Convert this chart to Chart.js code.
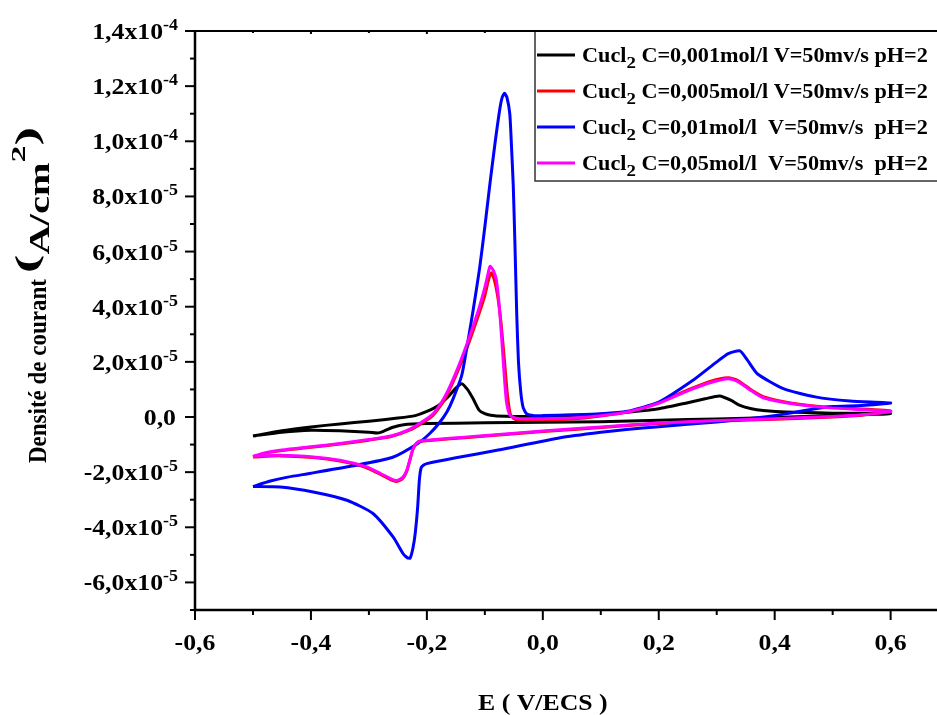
<!DOCTYPE html>
<html lang="fr">
<head>
<meta charset="UTF-8">
<title>Voltampérométrie cyclique CuCl2</title>
<script src="https://cdn.jsdelivr.net/npm/chart.js"></script>
<style>
  body { margin: 0; background: #fff; }
  #wrap { width: 937px; height: 715px; }
</style>
</head>
<body>
<div id="wrap"><canvas id="cv" width="937" height="715"></canvas></div>
<script>
// potentiel E (V/ECS) et densité de courant j (unités de 1e-5 A/cm2)
// chaque courbe : aller de -0,5 à 0,6 V puis retour vers -0,5 V

// C = 0,001 mol/l
const e001 = [-0.5, -0.45, -0.4, -0.35, -0.3, -0.25, -0.22, -0.2, -0.18, -0.165, -0.15, -0.14, -0.13, -0.12, -0.11, -0.1, -0.09, -0.08, -0.05, 0, 0.05, 0.1, 0.15, 0.2, 0.25, 0.28, 0.305, 0.325, 0.34, 0.36, 0.38, 0.42, 0.5, 0.6,
              0.5, 0.4, 0.3, 0.2, 0.1, 0, -0.1, -0.2, -0.24, -0.26, -0.275, -0.285, -0.3, -0.35, -0.4, -0.45, -0.5];
const j001 = [-0.69, -0.5, -0.36, -0.25, -0.15, -0.04, 0.05, 0.2, 0.42, 0.7, 1.05, 1.21, 1.0, 0.65, 0.25, 0.12, 0.06, 0.04, 0.02, 0.02, 0.05, 0.1, 0.18, 0.3, 0.52, 0.66, 0.76, 0.6, 0.42, 0.3, 0.24, 0.18, 0.14, 0.12,
              0.05, -0.02, -0.07, -0.12, -0.17, -0.19, -0.21, -0.24, -0.28, -0.38, -0.52, -0.58, -0.55, -0.5, -0.48, -0.55, -0.69];

// C = 0,005 mol/l
const e005 = [-0.5, -0.48, -0.45, -0.4, -0.35, -0.3, -0.26, -0.23, -0.21, -0.19, -0.17, -0.15, -0.13, -0.11, -0.1, -0.094, -0.089, -0.084, -0.078, -0.072, -0.066, -0.061, -0.056, -0.05, -0.04, 0, 0.05, 0.1, 0.15, 0.2, 0.25, 0.29, 0.32, 0.335, 0.36, 0.38, 0.43, 0.49, 0.6,
              0.55, 0.5, 0.4, 0.317, 0.2, 0.107, 0, -0.054, -0.109, -0.16, -0.2, -0.212, -0.218, -0.224, -0.23, -0.235, -0.242, -0.252, -0.262, -0.28, -0.304, -0.35, -0.396, -0.453, -0.5];
const j005 = [-1.45, -1.32, -1.22, -1.1, -0.98, -0.84, -0.7, -0.48, -0.24, 0.05, 0.62, 1.5, 2.55, 3.75, 4.4, 4.95, 5.23, 5.0, 4.4, 3.4, 2.0, 0.8, 0.1, -0.06, -0.1, -0.1, -0.07, 0.04, 0.2, 0.52, 0.98, 1.3, 1.42, 1.34, 0.98, 0.74, 0.5, 0.36, 0.22,
              0.06, 0.0, -0.08, -0.14, -0.24, -0.37, -0.53, -0.62, -0.71, -0.79, -0.86, -0.89, -0.97, -1.17, -1.62, -1.98, -2.24, -2.34, -2.28, -2.08, -1.84, -1.6, -1.47, -1.41, -1.45];

// C = 0,01 mol/l
const e01 = [-0.5, -0.47, -0.44, -0.4, -0.33, -0.26, -0.215, -0.195, -0.178, -0.165, -0.155, -0.14, -0.132, -0.12, -0.109, -0.1, -0.091, -0.082, -0.074, -0.07, -0.066, -0.062, -0.057, -0.054, -0.051, -0.048, -0.045, -0.042, -0.038, -0.034, -0.028, -0.015, 0, 0.05, 0.1, 0.144, 0.2, 0.259, 0.3, 0.32, 0.34, 0.353, 0.37, 0.415, 0.47, 0.53, 0.6,
             0.55, 0.5, 0.47, 0.43, 0.374, 0.3, 0.2, 0.144, 0.1, 0.03, -0.077, -0.15, -0.2, -0.206, -0.21, -0.213, -0.216, -0.22, -0.224, -0.229, -0.234, -0.241, -0.258, -0.293, -0.338, -0.396, -0.453, -0.5];
const j01 = [-2.52, -2.32, -2.18, -2.04, -1.78, -1.47, -0.95, -0.6, -0.2, 0.2, 0.65, 1.5, 2.4, 3.9, 5.4, 6.9, 8.5, 10.0, 11.2, 11.6, 11.74, 11.6, 11.0, 9.8, 8.4, 6.2, 3.75, 2.0, 0.9, 0.35, 0.12, 0.05, 0.05, 0.08, 0.12, 0.2, 0.54, 1.33, 2.0, 2.3, 2.4, 2.06, 1.57, 1.03, 0.73, 0.58, 0.51,
             0.42, 0.38, 0.3, 0.15, -0.02, -0.18, -0.35, -0.45, -0.55, -0.75, -1.2, -1.48, -1.69, -1.75, -1.85, -2.3, -3.3, -4.2, -4.75, -5.12, -5.1, -4.96, -4.36, -3.5, -3.02, -2.72, -2.54, -2.52];

// C = 0,05 mol/l
const e05 = [-0.5, -0.48, -0.45, -0.4, -0.35, -0.3, -0.26, -0.23, -0.21, -0.19, -0.17, -0.15, -0.13, -0.11, -0.1, -0.095, -0.091, -0.085, -0.08, -0.074, -0.068, -0.063, -0.058, -0.052, -0.04, 0, 0.05, 0.1, 0.15, 0.2, 0.25, 0.29, 0.32, 0.335, 0.36, 0.38, 0.43, 0.49, 0.6,
             0.55, 0.5, 0.4, 0.317, 0.2, 0.107, 0, -0.054, -0.109, -0.16, -0.2, -0.212, -0.218, -0.224, -0.23, -0.235, -0.242, -0.252, -0.262, -0.28, -0.304, -0.35, -0.396, -0.453, -0.5];
const j05 = [-1.43, -1.3, -1.2, -1.08, -0.96, -0.82, -0.68, -0.45, -0.2, 0.1, 0.7, 1.6, 2.7, 3.95, 4.7, 5.15, 5.47, 5.3, 4.96, 3.75, 1.94, 0.6, 0.12, 0.0, -0.06, -0.06, -0.04, 0.05, 0.2, 0.5, 0.95, 1.25, 1.39, 1.3, 0.95, 0.7, 0.48, 0.34, 0.2,
             0.08, 0.02, -0.06, -0.12, -0.22, -0.35, -0.51, -0.6, -0.69, -0.77, -0.84, -0.87, -0.95, -1.15, -1.6, -1.95, -2.2, -2.3, -2.24, -2.05, -1.81, -1.57, -1.45, -1.39, -1.43];

const seriesE = [e001, e005, e01, e05];
const seriesJ = [j001, j005, j01, j05];
const seriesColors = ['#000000', '#ff0000', '#0000ff', '#ff00ff'];
const seriesOrder = [3, 2, 1, 0];
const legendText = ['C=0,001mol/l V=50mv/s pH=2', 'C=0,005mol/l V=50mv/s pH=2',
                    'C=0,01mol/l  V=50mv/s  pH=2', 'C=0,05mol/l  V=50mv/s  pH=2'];

// graduations
const xTicks = [-0.6, -0.4, -0.2, 0, 0.2, 0.4, 0.6];
const xTickLabels = ['-0,6', '-0,4', '-0,2', '0,0', '0,2', '0,4', '0,6'];
const xMinor = [-0.5, -0.3, -0.1, 0.1, 0.3, 0.5];
const yTicks = [-6, -4, -2, 0, 2, 4, 6, 8, 10, 12, 14];
const yTickLabels = [['-6,0x10', '-5'], ['-4,0x10', '-5'], ['-2,0x10', '-5'], ['0,0', ''],
                     ['2,0x10', '-5'], ['4,0x10', '-5'], ['6,0x10', '-5'], ['8,0x10', '-5'],
                     ['1,0x10', '-4'], ['1,2x10', '-4'], ['1,4x10', '-4']];
const yMinor = [-7, -5, -3, -1, 1, 3, 5, 7, 9, 11, 13];

const SERIF = '"Liberation Serif", "Times New Roman", serif';
const SX = 1.12;

// texte gras légèrement élargi horizontalement
function txt(ctx, s, x, y, size, align, sx) {
  ctx.font = 'bold ' + size + 'px ' + SERIF;
  const w = ctx.measureText(s).width * sx;
  const x0 = align === 'center' ? x - w / 2 : align === 'right' ? x - w : x;
  ctx.save();
  ctx.translate(x0, y);
  ctx.scale(sx, 1);
  ctx.textAlign = 'left';
  ctx.textBaseline = 'alphabetic';
  ctx.fillText(s, 0, 0);
  ctx.restore();
  return w;
}

function seg(ctx, x1, y1, x2, y2) {
  ctx.beginPath(); ctx.moveTo(x1, y1); ctx.lineTo(x2, y2); ctx.stroke();
}

// titre vertical : [texte, taille, décalage de ligne de base, étirement]
const yTitleParts = [['Densité de courant ', 23, 0, 1], ['(', 28, -9, 2.0], ['A/cm', 27, 3, 1.5],
                     ['2', 17, -21, 2.0], [')', 28, -9, 2.0]];

const frame = {
  id: 'frame',
  afterDraw(chart) {
    const { ctx, chartArea: a, scales: { x, y } } = chart;
    ctx.save();
    ctx.strokeStyle = '#000';
    ctx.fillStyle = '#000';

    // axes
    ctx.lineWidth = 2.5;
    ctx.beginPath();
    ctx.moveTo(a.left, a.top); ctx.lineTo(a.left, a.bottom); ctx.lineTo(a.right, a.bottom);
    ctx.stroke();
    ctx.lineWidth = 2;
    seg(ctx, a.left, a.top, a.right, a.top);

    // graduations
    ctx.lineWidth = 2;
    xTicks.forEach(v => { const p = x.getPixelForValue(v); seg(ctx, p, a.bottom, p, a.bottom + 10); seg(ctx, p, a.top, p, a.top + 3); });
    xMinor.forEach(v => { const p = x.getPixelForValue(v); seg(ctx, p, a.bottom, p, a.bottom + 5); seg(ctx, p, a.top, p, a.top + 2); });
    yTicks.forEach(v => { const p = y.getPixelForValue(v); seg(ctx, a.left - 10, p, a.left, p); });
    yMinor.forEach(v => { const p = y.getPixelForValue(v); seg(ctx, a.left - 5, p, a.left, p); });

    // étiquettes
    xTicks.forEach((v, i) => txt(ctx, xTickLabels[i], x.getPixelForValue(v), a.bottom + 40, 23, 'center', SX));
    yTicks.forEach((v, i) => {
      const p = y.getPixelForValue(v);
      const [m, ex] = yTickLabels[i];
      if (ex) {
        ctx.font = 'bold 16px ' + SERIF;
        const sw = ctx.measureText(ex).width * SX;
        txt(ctx, ex, 178 - sw, p - 1, 16, 'left', SX);
        txt(ctx, m, 178 - sw, p + 8, 23, 'right', SX);
      } else {
        txt(ctx, m, 176, p + 8, 23, 'right', SX);
      }
    });

    // titres des axes
    txt(ctx, 'E ( V/ECS )', (x.getPixelForValue(-0.6) + x.getPixelForValue(0.6)) / 2, 710, 23, 'center', SX);

    ctx.save();
    ctx.translate(46, 463);
    ctx.rotate(-Math.PI / 2);
    let cx = 0;
    yTitleParts.forEach(([s, size, dy, st]) => {
      ctx.font = 'bold ' + size + 'px ' + SERIF;
      ctx.save();
      ctx.translate(cx, dy);
      ctx.scale(st, SX);
      ctx.fillText(s, 0, 0);
      ctx.restore();
      cx += ctx.measureText(s).width * st;
    });
    ctx.restore();

    // légende
    const lx = 535, ly = a.top, lw = 420, lh = 150;
    ctx.fillStyle = '#fff';
    ctx.fillRect(lx, ly + 1, lw, lh - 1);
    ctx.strokeStyle = '#333';
    ctx.lineWidth = 1.5;
    ctx.strokeRect(lx, ly, lw, lh);
    ctx.strokeStyle = '#000';
    ctx.lineWidth = 2;
    seg(ctx, a.left, a.top, a.right, a.top);
    chart.data.datasets.forEach((ds, i) => {
      const cy = 55 + i * 36;
      ctx.strokeStyle = ds.borderColor;
      ctx.lineWidth = 3;
      seg(ctx, 537, cy, 575, cy);
      ctx.fillStyle = '#000';
      let tx = 582;
      tx += txt(ctx, 'Cucl', tx, cy + 7, 20, 'left', 1.11);
      tx += txt(ctx, '2', tx, cy + 13, 17, 'left', 1.11);
      txt(ctx, ' ' + legendText[i], tx, cy + 7, 20, 'left', 1.11);
    });
    ctx.restore();
  }
};

const datasets = seriesE.map((es, i) => ({
  label: 'Cucl2 ' + legendText[i],
  data: es.map((e, k) => ({ x: e, y: seriesJ[i][k] })),
  showLine: true,
  borderColor: seriesColors[i],
  backgroundColor: seriesColors[i],
  borderWidth: 3,
  pointRadius: 0,
  tension: 0.2,
  fill: false,
  order: seriesOrder[i]
}));

new Chart(document.getElementById('cv').getContext('2d'), {
  type: 'scatter',
  data: { datasets },
  options: {
    responsive: false,
    animation: false,
    layout: { padding: { top: 31, left: 0, right: 0, bottom: 0 } },
    plugins: { legend: { display: false }, tooltip: { enabled: false } },
    scales: {
      x: {
        type: 'linear', min: -0.6, max: 0.68,
        grid: { display: false }, border: { display: false }, ticks: { display: false },
        afterFit(s) { s.height = 105; }
      },
      y: {
        type: 'linear', min: -7, max: 14,
        grid: { display: false }, border: { display: false }, ticks: { display: false },
        afterFit(s) { s.width = 195; }
      }
    }
  },
  plugins: [frame]
});
</script>
</body>
</html>
